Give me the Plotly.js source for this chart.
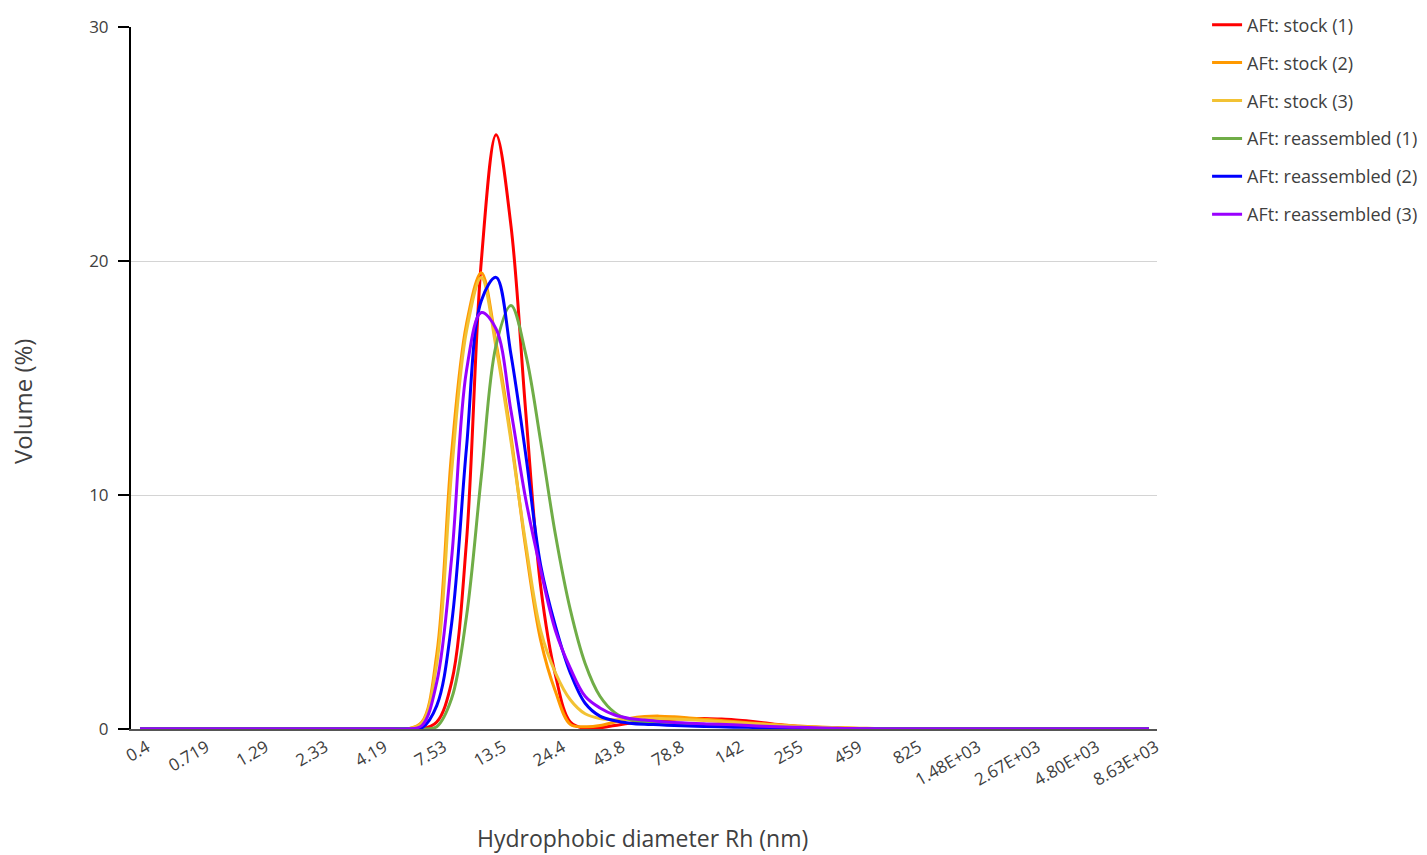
<!DOCTYPE html>
<html>
<head>
<meta charset="utf-8">
<script src="https://cdn.plot.ly/plotly-3.0.1.min.js"></script>
<style>
  html, body { margin: 0; padding: 0; background: #ffffff; }
  #chart { width: 1427px; height: 855px; }
</style>
</head>
<body>
<div id="chart"></div>
<script>
// Hydrodynamic size classes (nm)
const diameters = [0.4000, 0.4632, 0.5365, 0.6213, 0.7195, 0.8332, 0.9650, 1.117, 1.294, 1.499,
  1.736, 2.010, 2.328, 2.696, 3.122, 3.615, 4.187, 4.849, 5.615, 6.503,
  7.531, 8.721, 10.10, 11.70, 13.54, 15.69, 18.17, 21.04, 24.36, 28.21,
  32.67, 37.84, 43.82, 50.75, 58.77, 68.06, 78.82, 91.28, 105.7, 122.4,
  141.8, 164.2, 190.1, 220.2, 255.0, 295.3, 342.0, 396.1, 458.7, 531.2,
  615.1, 712.4, 825.0, 955.4, 1106, 1281, 1484, 1718, 1990, 2305,
  2669, 3091, 3580, 4145, 4801, 5560, 6439, 7456, 8635];

const tickVals = [0.4, 0.7195, 1.294, 2.328, 4.187, 7.531, 13.54, 24.36, 43.82, 78.82,
  141.8, 255.0, 458.7, 825.0, 1484, 2669, 4801, 8635];
const tickText = ["0.4", "0.719", "1.29", "2.33", "4.19", "7.53", "13.5", "24.4", "43.8", "78.8",
  "142", "255", "459", "825", "1.48E+03", "2.67E+03", "4.80E+03", "8.63E+03"];

// Volume (%) per size class, k = 0..68
const stock1 = [0,0,0,0,0,0,0,0,0,0, 0,0,0,0,0,0,0,0,0,0,
  0.3, 2.0, 8.0, 20.0, 25.4, 21.5, 13.5, 6.1, 2.3, 0.3,
  0.02, 0.05, 0.15, 0.25, 0.33, 0.38, 0.42, 0.45, 0.45, 0.43,
  0.4, 0.34, 0.27, 0.19, 0.13, 0.08, 0.05, 0.03, 0.02, 0.01,
  0,0,0,0,0,0,0,0,0,0, 0,0,0,0,0,0,0,0,0];
const stock2 = [0,0,0,0,0,0,0,0,0,0, 0,0,0,0,0,0,0,0,0,0.3,
  3.2, 11.8, 17.3, 19.5, 16.5, 12.5, 7.7, 3.8, 1.6, 0.2,
  0.1, 0.15, 0.3, 0.45, 0.53, 0.55, 0.52, 0.47, 0.42, 0.37,
  0.32, 0.27, 0.22, 0.18, 0.14, 0.11, 0.08, 0.06, 0.04, 0.03,
  0.02, 0.01, 0,0,0,0,0,0,0,0, 0,0,0,0,0,0,0,0,0];
const stock3 = [0,0,0,0,0,0,0,0,0,0, 0,0,0,0,0,0,0,0,0,0.25,
  2.8, 11.0, 17.0, 19.3, 16.3, 12.3, 7.9, 4.2, 2.4, 1.25,
  0.65, 0.45, 0.4, 0.42, 0.45, 0.45, 0.43, 0.4, 0.36, 0.32,
  0.28, 0.24, 0.2, 0.16, 0.12, 0.09, 0.07, 0.05, 0.03, 0.02,
  0.01, 0,0,0,0,0,0,0,0,0, 0,0,0,0,0,0,0,0,0];
const reasm1 = [0,0,0,0,0,0,0,0,0,0, 0,0,0,0,0,0,0,0,0,0,
  0.1, 1.3, 4.8, 10.8, 16.4, 18.1, 16.0, 12.3, 8.3, 5.1,
  2.8, 1.4, 0.7, 0.4, 0.3, 0.25, 0.2, 0.18, 0.15, 0.13,
  0.11, 0.09, 0.07, 0.05, 0.04, 0.03, 0.02, 0.01, 0, 0,
  0,0,0,0,0,0,0,0,0,0, 0,0,0,0,0,0,0,0,0];
const reasm2 = [0,0,0,0,0,0,0,0,0,0, 0,0,0,0,0,0,0,0,0,0.05,
  1.0, 4.5, 12.0, 18.3, 19.3, 16.0, 11.7, 7.0, 4.4, 2.4,
  1.1, 0.55, 0.35, 0.25, 0.2, 0.18, 0.15, 0.13, 0.11, 0.1,
  0.08, 0.07, 0.05, 0.04, 0.03, 0.02, 0.01, 0, 0, 0,
  0,0,0,0,0,0,0,0,0,0, 0,0,0,0,0,0,0,0,0];
const reasm3 = [0,0,0,0,0,0,0,0,0,0, 0,0,0,0,0,0,0,0,0,0.15,
  2.0, 7.3, 15.3, 17.8, 17.1, 13.6, 9.8, 6.8, 4.2, 2.6,
  1.4, 0.9, 0.6, 0.45, 0.38, 0.32, 0.28, 0.25, 0.22, 0.2,
  0.18, 0.15, 0.12, 0.1, 0.08, 0.06, 0.04, 0.03, 0.02, 0.01,
  0,0,0,0,0,0,0,0,0,0, 0,0,0,0,0,0,0,0,0];

const seriesNames = ["AFt: stock (1)", "AFt: stock (2)", "AFt: stock (3)",
  "AFt: reassembled (1)", "AFt: reassembled (2)", "AFt: reassembled (3)"];
const seriesValues = [stock1, stock2, stock3, reasm1, reasm2, reasm3];
const seriesColors = ["#ff0000", "#ff9900", "#f2c234", "#70ad47", "#0000ff", "#9900ff"];

const traces = seriesNames.map((name, i) => ({
  type: "scatter",
  mode: "lines",
  name: name,
  legendgroup: "g" + i,
  x: diameters,
  y: seriesValues[i],
  line: { color: seriesColors[i], width: 3, shape: "spline", smoothing: 1 },
  hoverinfo: "x+y+name"
}));

const font = "'Open Sans', 'Noto Sans', Arial, sans-serif";

const layout = {
  width: 1427,
  height: 855,
  paper_bgcolor: "#ffffff",
  plot_bgcolor: "#ffffff",
  margin: { l: 131, r: 270, t: 27, b: 126, autoexpand: false },
  font: { family: font, color: "#404040", size: 17 },
  showlegend: true,
  legend: {
    x: 1.0488, xanchor: "left",
    y: 1.0292, yanchor: "top",
    font: { family: font, size: 18, color: "#404040" },
    tracegroupgap: 11.5,
    bgcolor: "rgba(0,0,0,0)"
  },
  xaxis: {
    type: "log",
    range: [-0.4366, 3.9706],
    tickmode: "array",
    tickvals: tickVals,
    ticktext: tickText,
    tickangle: -30,
    ticks: "",
    ticklabelshift: 7,
    showgrid: false,
    zeroline: false,
    showline: true,
    linecolor: "#555555",
    linewidth: 2,
    tickfont: { family: font, size: 17, color: "#404040" }
  },
  yaxis: {
    range: [0, 30],
    tickvals: [0, 10, 20, 30],
    ticks: "outside",
    ticklen: 11,
    tickwidth: 1.5,
    tickcolor: "#000000",
    ticklabelstandoff: 6,
    showline: true,
    linecolor: "#000000",
    linewidth: 2,
    showgrid: true,
    gridcolor: "#d4d4d4",
    gridwidth: 1,
    zeroline: false,
    tickfont: { family: font, size: 17, color: "#404040" }
  },
  annotations: [
    {
      text: "Hydrophobic diameter Rh (nm)",
      xref: "paper", yref: "paper",
      x: 0.499, y: -0.1555,
      xanchor: "center", yanchor: "middle",
      showarrow: false,
      font: { family: font, size: 23, color: "#404040" }
    },
    {
      text: "Volume (%)",
      xref: "paper", yref: "paper",
      x: -0.1062, y: 0.4658,
      xanchor: "center", yanchor: "middle",
      textangle: -90,
      showarrow: false,
      font: { family: font, size: 24, color: "#404040" }
    }
  ]
};

Plotly.newPlot("chart", traces, layout, { displayModeBar: false, staticPlot: true });
</script>
</body>
</html>
